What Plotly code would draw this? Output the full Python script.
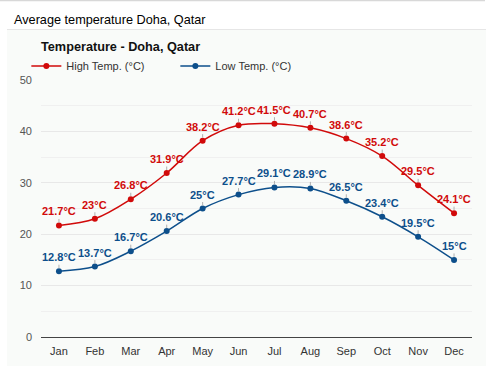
import plotly.graph_objects as go

months = ["Jan", "Feb", "Mar", "Apr", "May", "Jun", "Jul", "Aug", "Sep", "Oct", "Nov", "Dec"]
high_temp = [21.7, 23, 26.8, 31.9, 38.2, 41.2, 41.5, 40.7, 38.6, 35.2, 29.5, 24.1]
low_temp = [12.8, 13.7, 16.7, 20.6, 25, 27.7, 29.1, 28.9, 26.5, 23.4, 19.5, 15]
y_ticks = [0, 10, 20, 30, 40, 50]

RED = "#d10a0a"
BLUE = "#0d4f8b"
FONT = "Liberation Sans, Arial, sans-serif"

fig = go.Figure()
for name, vals, col in [("High Temp. (°C)", high_temp, RED), ("Low Temp. (°C)", low_temp, BLUE)]:
    fig.add_trace(go.Scatter(
        x=months, y=vals, name=name, mode="lines+markers",
        line=dict(color=col, width=1.5, shape="spline", smoothing=1),
        marker=dict(color=col, size=6),
        hoverinfo="skip",
    ))

annotations = []
for vals, col in [(high_temp, RED), (low_temp, BLUE)]:
    for m, v in zip(months, vals):
        annotations.append(dict(
            x=m, y=v, xref="x", yref="y", text=f"{v:g}°C",
            showarrow=True, arrowhead=0, arrowwidth=1, arrowcolor="#b0b0b0",
            ax=0, ay=-14, standoff=3,
            font=dict(family=FONT, size=11, color=col, weight="bold"),
        ))

# page / panel titles
annotations.append(dict(
    text="Average temperature Doha, Qatar", xref="paper", yref="paper",
    x=(12 - 41) / 431, y=(337 - 20) / 257, xanchor="left", yanchor="middle",
    showarrow=False, font=dict(family=FONT, size=12.7, color="#000"),
))
annotations.append(dict(
    text="<b>Temperature - Doha, Qatar</b>", xref="paper", yref="paper",
    x=(39 - 41) / 431, y=(337 - 47) / 257, xanchor="left", yanchor="middle",
    showarrow=False, font=dict(family=FONT, size=12.7, color="#111"),
))

shapes = [
    # panel background
    dict(type="rect", xref="paper", yref="paper", layer="below",
         x0=(7 - 41) / 431, x1=(486 - 41) / 431, y0=(337 - 366) / 257, y1=(337 - 29.5) / 257,
         fillcolor="#f9fbf9", line=dict(width=0)),
    # separator line below page title
    dict(type="line", xref="paper", yref="paper",
         x0=(7 - 41) / 431, x1=(486 - 41) / 431, y0=(337 - 29.5) / 257, y1=(337 - 29.5) / 257,
         line=dict(color="#e6e6e6", width=1)),
    # top border
    dict(type="line", xref="paper", yref="paper",
         x0=-41 / 431, x1=(485 - 41) / 431, y0=(337 - 0.5) / 257, y1=(337 - 0.5) / 257,
         line=dict(color="#d8d8d8", width=1.5)),
]

fig.update_layout(
    width=486, height=366,
    margin=dict(l=41, r=14, t=80, b=29, autoexpand=False),
    paper_bgcolor="white", plot_bgcolor="rgba(0,0,0,0)",
    font=dict(family=FONT, size=11, color="#333"),
    showlegend=True,
    legend=dict(orientation="h", x=-0.034, y=(337 - 66) / 257, xanchor="left", yanchor="middle",
                bgcolor="rgba(0,0,0,0)", font=dict(family=FONT, size=11, color="#333"),
                itemwidth=30, entrywidthmode="pixels", entrywidth=104),
    annotations=annotations,
    shapes=shapes,
    xaxis=dict(type="category", range=[-0.5, 11.5], showgrid=False, automargin=False,
               showline=True, linecolor="#444", linewidth=1, ticks="",
               ticklabelstandoff=4,
               tickfont=dict(family=FONT, size=11, color="#333"), fixedrange=True),
    yaxis=dict(range=[0, 50], tickvals=y_ticks, showgrid=True, gridcolor="#e8e8e8",
               automargin=False, zeroline=False, showline=False, ticks="",
               ticklabelstandoff=8,
               minor=dict(dtick=5, showgrid=True, gridcolor="#f0f0f0", ticks=""),
               tickfont=dict(family=FONT, size=11, color="#555"), fixedrange=True),
)

fig.write_html("out.html", config={"displayModeBar": False},
               post_script="document.body.style.margin='0';document.body.style.overflow='hidden';")
